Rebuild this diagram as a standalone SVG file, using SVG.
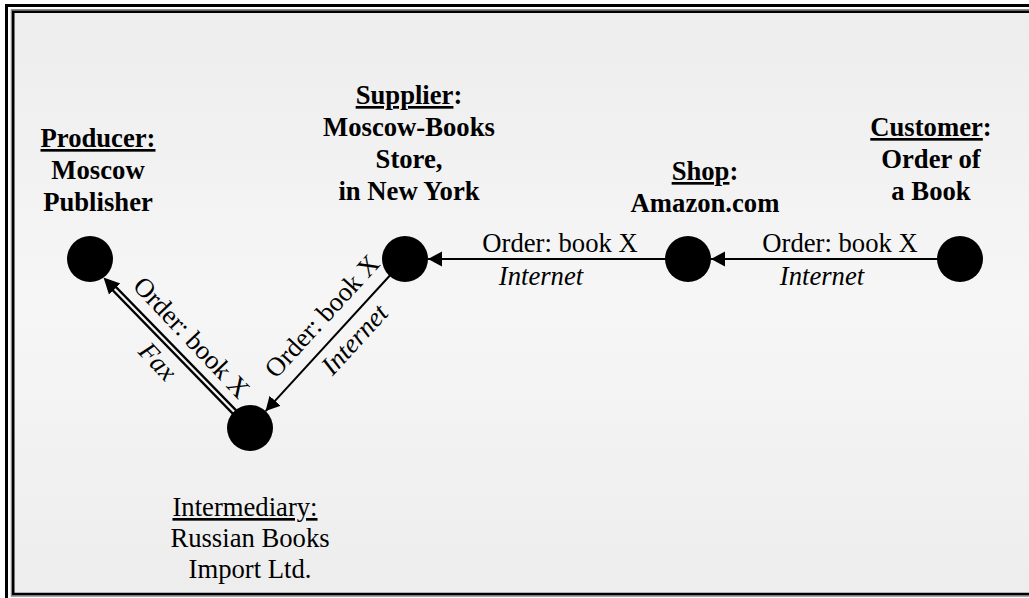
<svg xmlns="http://www.w3.org/2000/svg" width="1029" height="598" viewBox="0 0 1029 598">
<style>
  text { font-family: "Liberation Serif", "Times New Roman", serif; font-size: 26.67px; fill: #000; text-anchor: middle; }
  .b { font-weight: bold; }
  .i { font-style: italic; }
  .u { text-decoration: underline; }
  .node { fill: #000; }
  .edge { stroke: #000; stroke-width: 2; fill: none; }
</style>
<defs>
  <linearGradient id="bg" x1="0" y1="0" x2="0" y2="1">
    <stop offset="0" stop-color="#ededed"/>
    <stop offset="0.5" stop-color="#f6f6f6"/>
    <stop offset="1" stop-color="#ededed"/>
  </linearGradient>
  <marker id="arr" markerUnits="userSpaceOnUse" markerWidth="15" markerHeight="16" refX="14" refY="7.5" orient="auto">
    <path d="M0,0 L14,7.5 L0,15 z" fill="#000"/>
  </marker>
  <marker id="arr2" markerUnits="userSpaceOnUse" markerWidth="17" markerHeight="18" refX="4" refY="8.5" orient="auto">
    <path d="M0,0.5 L16,8.5 L0,16.5 z" fill="#000"/>
  </marker>
</defs>
<rect x="0" y="0" width="1029" height="598" fill="#fff"/>
<g id="frame">
  <rect x="6.5" y="5.5" width="1100" height="700" fill="none" stroke="#000" stroke-width="3"/>
  <rect x="11.5" y="9.75" width="1100" height="586.25" fill="none" stroke="#8a8a8a" stroke-width="1.5"/>
  <rect x="13.25" y="11.75" width="1100" height="582.25" fill="url(#bg)" stroke="#000" stroke-width="2.5"/>
</g>
<g id="connectors">
  <line class="edge" x1="960" y1="259" x2="711" y2="259" marker-end="url(#arr)"/>
  <line class="edge" x1="688" y1="259" x2="428" y2="259" marker-end="url(#arr)"/>
  <line class="edge" x1="405" y1="259" x2="265.6" y2="411.1" marker-end="url(#arr)"/>
  <line x1="250" y1="428" x2="111.9" y2="286.1" stroke="#000" stroke-width="7" marker-end="url(#arr2)"/>
  <line x1="250" y1="428" x2="114.7" y2="289" stroke="#f3f3f3" stroke-width="2.4"/>
  <text x="840" y="252">Order: book X</text>
  <text class="i" x="822" y="285">Internet</text>
  <text x="560" y="252">Order: book X</text>
  <text class="i" x="541" y="285">Internet</text>
  <text transform="translate(328.6,322.1) rotate(-47.5)">Order: book X</text>
  <text class="i" transform="translate(361.1,345.4) rotate(-47.5)">Internet</text>
  <text transform="translate(185.1,343.4) rotate(46.6)">Order: book X</text>
  <text class="i" transform="translate(151.4,367.5) rotate(46.6)">Fax</text>
</g>
<g id="producer">
  <circle class="node" cx="90" cy="259" r="23"/>
  <text class="b" x="98" y="147"><tspan class="u">Producer:</tspan></text>
  <text class="b" x="98" y="179">Moscow</text>
  <text class="b" x="98" y="211">Publisher</text>
</g>
<g id="supplier">
  <circle class="node" cx="405" cy="259" r="23"/>
  <text class="b" x="409" y="104"><tspan class="u">Supplier</tspan>:</text>
  <text class="b" x="409" y="136">Moscow-Books</text>
  <text class="b" x="409" y="168">Store,</text>
  <text class="b" x="409" y="200">in New York</text>
</g>
<g id="shop">
  <circle class="node" cx="688" cy="259" r="23"/>
  <text class="b" x="705" y="180"><tspan class="u">Shop</tspan>:</text>
  <text class="b" x="705" y="212">Amazon.com</text>
</g>
<g id="customer">
  <circle class="node" cx="960" cy="259" r="23"/>
  <text class="b" x="931" y="136"><tspan class="u">Customer</tspan>:</text>
  <text class="b" x="931" y="168">Order of</text>
  <text class="b" x="931" y="200">a Book</text>
</g>
<g id="intermediary">
  <circle class="node" cx="250" cy="428" r="23"/>
  <text x="245" y="516"><tspan class="u">Intermediary:</tspan></text>
  <text x="250" y="547">Russian Books</text>
  <text x="250" y="578">Import Ltd.</text>
</g>
</svg>
